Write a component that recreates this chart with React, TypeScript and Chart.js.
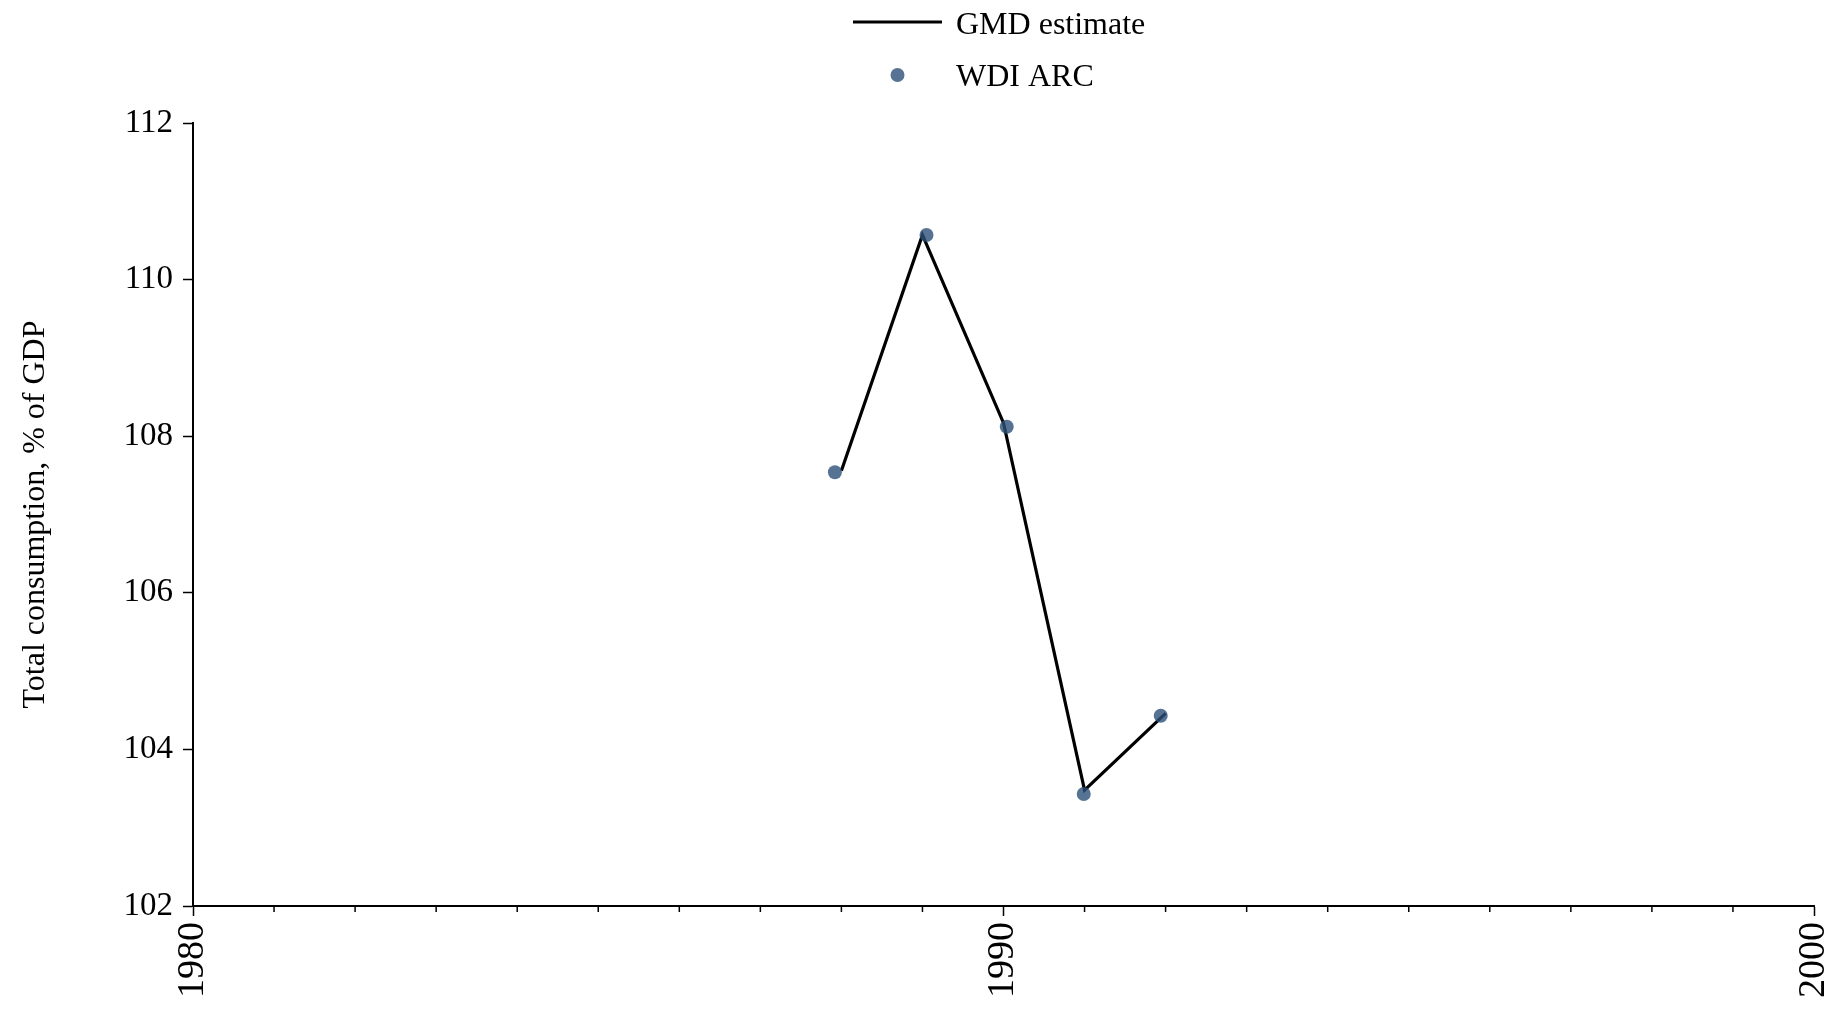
import React, { useEffect, useRef } from "react";
import { Chart, registerables } from "chart.js";

Chart.register(...registerables);

const gmdYears = [1988, 1989, 1990, 1991, 1992];
const gmdValues = [107.56, 110.57, 108.17, 103.48, 104.46];
const wdiYears = [1987.92, 1989.05, 1990.04, 1990.99, 1991.94];
const wdiValues = [107.54, 110.57, 108.12, 103.43, 104.43];
const xTickYears = [1980, 1990, 2000];
const yTicks = [102, 104, 106, 108, 110, 112];
const legendLabels = ["GMD estimate", "WDI ARC"];
const yTitle = "Total consumption, % of GDP";

const FONT = '"Liberation Serif", "Times New Roman", serif';
const DOT_COLOR = "rgba(45,80,120,0.8)";

const minorTicksPlugin = {
  id: "minorTicks",
  afterDraw(chart: any) {
    const xs = chart.scales.x;
    const ctx = chart.ctx;
    const bottom = chart.chartArea.bottom;
    ctx.save();
    ctx.strokeStyle = "#000";
    ctx.lineWidth = 1.5;
    for (let yr = xs.min; yr <= xs.max; yr++) {
      if (xTickYears.includes(yr)) continue;
      const px = xs.getPixelForValue(yr);
      ctx.beginPath();
      ctx.moveTo(px, bottom);
      ctx.lineTo(px, bottom + 6);
      ctx.stroke();
    }
    ctx.restore();
  },
};

const legendPlugin = {
  id: "customLegend",
  afterDraw(chart: any) {
    const ctx = chart.ctx;
    ctx.save();
    ctx.font = `32px ${FONT}`;
    ctx.fillStyle = "#000";
    ctx.textBaseline = "middle";
    ctx.textAlign = "left";
    ctx.strokeStyle = "#000";
    ctx.lineWidth = 3;
    ctx.beginPath();
    ctx.moveTo(853, 22);
    ctx.lineTo(942, 22);
    ctx.stroke();
    ctx.fillText(legendLabels[0], 956, 26);
    ctx.fillStyle = DOT_COLOR;
    ctx.beginPath();
    ctx.arc(897.5, 75, 7, 0, Math.PI * 2);
    ctx.fill();
    ctx.fillStyle = "#000";
    ctx.fillText(legendLabels[1], 956, 78);
    ctx.restore();
  },
};

export default function App() {
  const ref = useRef<HTMLCanvasElement>(null);
  useEffect(() => {
    if (!ref.current) return;
    const chart = new Chart(ref.current, {
      type: "scatter",
      data: {
        datasets: [
          {
            label: legendLabels[1],
            data: wdiYears.map((x, i) => ({ x, y: wdiValues[i] })),
            showLine: false,
            pointRadius: 7,
            pointBorderWidth: 0,
            pointBackgroundColor: DOT_COLOR,
            backgroundColor: DOT_COLOR,
            order: 0,
          },
          {
            type: "line",
            label: legendLabels[0],
            data: gmdYears.map((x, i) => ({ x, y: gmdValues[i] })),
            showLine: true,
            borderColor: "#000",
            borderWidth: 3.2,
            pointRadius: 0,
            tension: 0,
            fill: false,
            order: 1,
          } as any,
        ],
      },
      options: {
        animation: false,
        responsive: false,
        maintainAspectRatio: false,
        devicePixelRatio: 1,
        layout: { padding: { top: 123, right: 26, left: 0, bottom: 0 } },
        plugins: {
          legend: { display: false },
          tooltip: { enabled: false },
        },
        scales: {
          x: {
            type: "linear",
            min: 1980,
            max: 2000,
            afterFit: (s: any) => {
              s.height = 106;
              s.paddingRight = 0;
              s.paddingLeft = 0;
            },
            afterBuildTicks: (s: any) => {
              s.ticks = xTickYears.map((v) => ({ value: v }));
            },
            border: { display: true, color: "#000", width: 2 },
            grid: {
              display: true,
              drawOnChartArea: false,
              drawTicks: true,
              tickLength: 10,
              tickColor: "#000",
              tickWidth: 1.5,
            },
            ticks: {
              maxRotation: 90,
              minRotation: 90,
              padding: 6,
              color: "#000",
              font: { family: FONT, size: 38 },
              callback: (v: any) => String(v),
            },
          },
          y: {
            type: "linear",
            min: 102,
            max: 112,
            afterFit: (s: any) => {
              s.width = 193;
              s.paddingTop = 0;
              s.paddingBottom = 0;
            },
            afterBuildTicks: (s: any) => {
              s.ticks = yTicks.map((v) => ({ value: v }));
            },
            border: { display: true, color: "#000", width: 2 },
            grid: {
              display: true,
              drawOnChartArea: false,
              drawTicks: true,
              tickLength: 10,
              tickColor: "#000",
              tickWidth: 1.5,
            },
            title: {
              display: true,
              text: yTitle,
              color: "#000",
              font: { family: FONT, size: 32 },
              padding: { top: 16, bottom: 0 },
            },
            ticks: {
              padding: 10,
              color: "#000",
              font: { family: FONT, size: 33 },
              callback: (v: any) => String(v),
            },
          },
        },
      },
      plugins: [minorTicksPlugin, legendPlugin],
    });
    return () => chart.destroy();
  }, []);
  return (
    <div style={{ position: "absolute", left: 0, top: 0, width: 1840, height: 1012, background: "#fff" }}>
      <canvas ref={ref} width={1840} height={1012} style={{ width: 1840, height: 1012, display: "block" }} />
    </div>
  );
}
